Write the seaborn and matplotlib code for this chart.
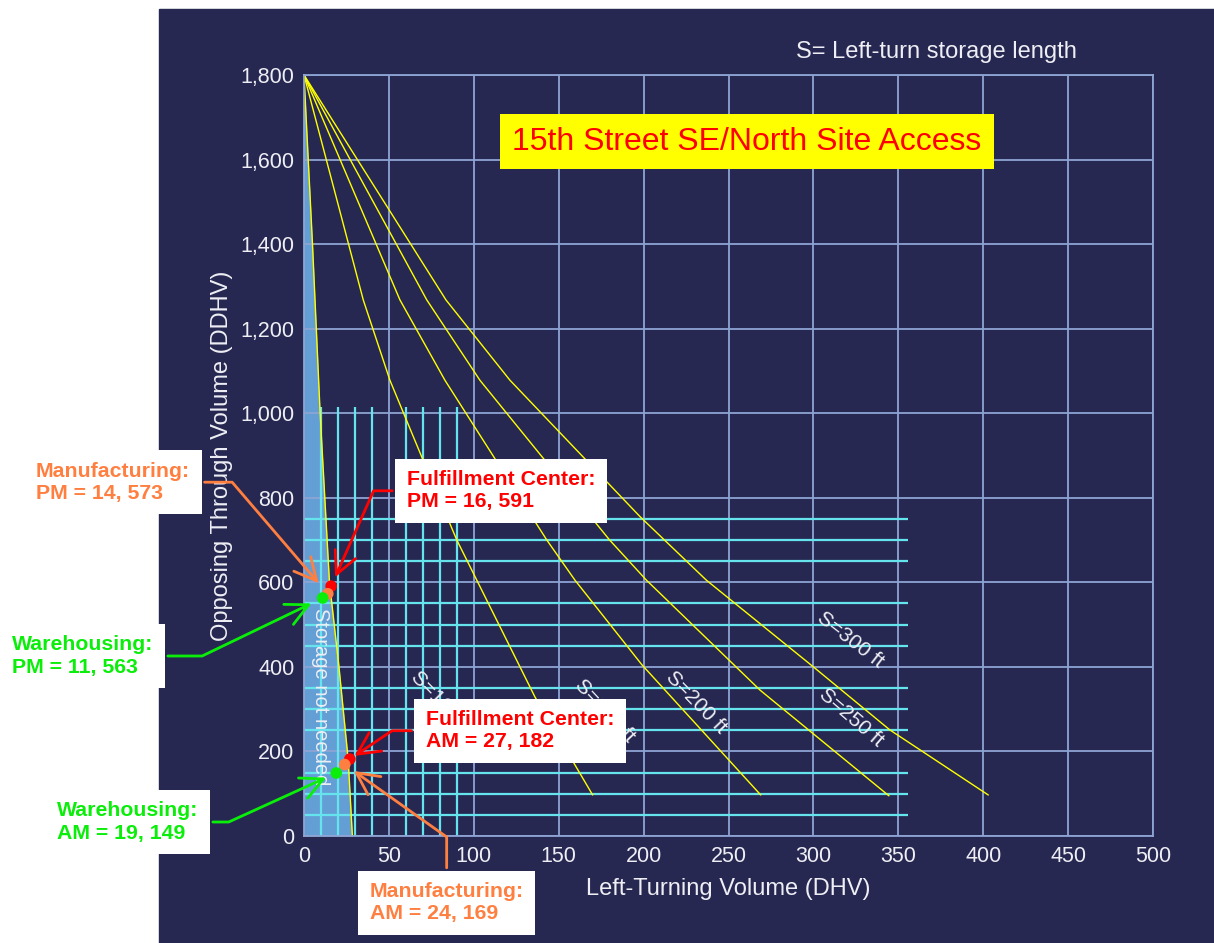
import pandas as pd
import seaborn as sns
import matplotlib.pyplot as plt
from matplotlib.patches import Rectangle
from matplotlib.ticker import StrMethodFormatter

# ----------------------------
# Data
# ----------------------------
# "storage not needed" boundary
boundary_x = [0, 5, 9.5, 15, 20.6, 26, 28.5]
boundary_y = [1800, 1400, 1000, 600, 400, 182, 0]

# storage-length curves (all start at the 1,800 apex)
curve1_x = [0, 34.9, 50.6, 69.3, 90, 136, 170]
curve1_y = [1800, 1268, 1078, 897, 700, 329, 97]
curve2_x = [0, 56.5, 83, 143, 159.6, 199, 269]
curve2_y = [1800, 1268, 1078, 700, 605, 405, 97]
curve3_x = [0, 72.3, 103.6, 180, 201.7, 268.6, 344.5]
curve3_y = [1800, 1268, 1078, 700, 605, 345, 95]
curve4_x = [0, 83.6, 121.3, 198, 237, 300, 345, 403]
curve4_y = [1800, 1268, 1078, 755, 605, 400, 251, 97]

curve_labels = ["S=100 ft", "S=150 ft", "S=200 ft", "S=250 ft", "S=300 ft"]

# study intersections
land_use = ["Fulfillment Center", "Manufacturing", "Warehousing",
            "Fulfillment Center", "Manufacturing", "Warehousing"]
period = ["PM", "PM", "PM", "AM", "AM", "AM"]
left_turn = [16, 14, 11, 27, 24, 19]
opposing = [591, 573, 563, 182, 169, 149]

# fine grid
fine_x = [10, 20, 30, 40, 60, 70, 80, 90]
fine_y = [50, 100, 150, 250, 300, 350, 450, 500, 550, 650, 700, 750]

# ----------------------------
# Styles
# ----------------------------
NAVY = "#262852"
GRID = "#8ea5d4"
CYAN = "#66e4ee"
FILL = "#639fd5"
TXT = "#eeeef4"
use_colors = {"Fulfillment Center": "#ff0000",
              "Manufacturing": "#ff7f40",
              "Warehousing": "#0aee0a"}

sns.set_theme(style="white")
plt.rcParams["font.family"] = ["Liberation Sans", "DejaVu Sans"]

W, H = 1214, 943
fig = plt.figure(figsize=(W / 100, H / 100), dpi=100, facecolor="white")
fig.patches.append(Rectangle((159 / W, 0), 1 - 159 / W, 1 - 9 / H,
                             transform=fig.transFigure, color=NAVY, zorder=-1))
ax = fig.add_axes([304 / W, 107 / H, 849 / W, 761 / H])
ax.set_facecolor(NAVY)

# shaded region
ax.fill_betweenx(boundary_y, 0, boundary_x, color=FILL, lw=0, zorder=0.2)

# fine grid
ax.vlines(fine_x, 0, 1015, color=CYAN, lw=1.6, zorder=0.8)
ax.hlines(fine_y, 0, 356, color=CYAN, lw=1.6, zorder=0.8)

# curves
curves = pd.concat([
    pd.DataFrame({"x": boundary_x, "y": boundary_y, "curve": "boundary"}),
    pd.DataFrame({"x": curve1_x, "y": curve1_y, "curve": "c1"}),
    pd.DataFrame({"x": curve2_x, "y": curve2_y, "curve": "c2"}),
    pd.DataFrame({"x": curve3_x, "y": curve3_y, "curve": "c3"}),
    pd.DataFrame({"x": curve4_x, "y": curve4_y, "curve": "c4"}),
])
sns.lineplot(data=curves, x="x", y="y", units="curve", estimator=None,
             sort=False, color="#ffff00", lw=1.0, ax=ax, zorder=2)

# curve labels
label_pos = [(80.7, 315, -46), (177, 296, -47), (231, 315, -46),
             (322, 279, -41), (322, 464, -38)]
for lab, (lx, ly, rot) in zip(curve_labels, label_pos):
    ax.text(lx, ly, lab, color=TXT, fontsize=15, rotation=rot,
            ha="center", va="center", rotation_mode="anchor", zorder=3)

ax.text(9.5, 330, "Storage not needed", color=TXT, fontsize=14.5,
        rotation=-90, ha="center", va="center", zorder=3)

# points
pts = pd.DataFrame({"land_use": land_use, "period": period,
                    "left_turn": left_turn, "opposing": opposing})
sns.scatterplot(data=pts, x="left_turn", y="opposing", hue="land_use",
                palette=use_colors, s=70, linewidth=0, legend=False,
                zorder=4, ax=ax)

# callouts: text left x, center y (px from top-left), angleA, angleB, shrink
callouts = [(406.7, 490.8, 0, 66, 7), (36, 482.2, 0, 130.6, 10),
            (12, 656, 0, -154.3, 9), (426, 730.7, 0, 33.9, 4),
            (369.6, 902.8, 90, -35.4, 8), (57, 822, 0, -155.5, 8)]
for (_, r), (tx, ty, aA, aB, shr) in zip(pts.iterrows(), callouts):
    col = use_colors[r["land_use"]]
    ax.annotate(f"{r['land_use']}:\n{r['period']} = {r['left_turn']}, {r['opposing']}",
                xy=(r["left_turn"], r["opposing"]), xycoords="data",
                xytext=(tx, H - ty), textcoords="figure pixels",
                ha="left", va="center", color=col, fontsize=15.3,
                fontweight="bold", linespacing=1.2, zorder=6,
                annotation_clip=False,
                bbox=dict(boxstyle="square,pad=0.55", fc="white", ec="none"),
                arrowprops=dict(arrowstyle="->", color=col, lw=2.0,
                                mutation_scale=40, shrinkB=shr,
                                connectionstyle=f"angle,angleA={aA},angleB={aB},rad=0"))

# axes styling
ax.set_xlim(0, 500)
ax.set_ylim(0, 1800)
ax.set_xticks(range(0, 501, 50))
ax.set_yticks(range(0, 1801, 200))
ax.yaxis.set_major_formatter(StrMethodFormatter("{x:,.0f}"))
ax.grid(True, color=GRID, lw=1.3)
ax.set_axisbelow(True)
for sp in ax.spines.values():
    sp.set_color(GRID)
    sp.set_linewidth(1.3)
ax.tick_params(length=0, labelsize=15.5, labelcolor=TXT, pad=7)
ax.set_xlabel("Left-Turning Volume (DHV)", fontsize=17, color=TXT, labelpad=8)
ax.set_ylabel("Opposing Through Volume (DDHV)", fontsize=17, color=TXT, labelpad=5)

fig.text(936.5 / W, 1 - 52 / H, "S= Left-turn storage length", color=TXT,
         fontsize=17, ha="center", va="center")
fig.text(747 / W, 1 - 141.5 / H, "15th Street SE/North Site Access",
         color="#ff0000", fontsize=23, ha="center", va="center",
         bbox=dict(boxstyle="square,pad=0.4", fc="#ffff00", ec="none"))

plt.savefig("out.png", dpi=100, facecolor="white")
